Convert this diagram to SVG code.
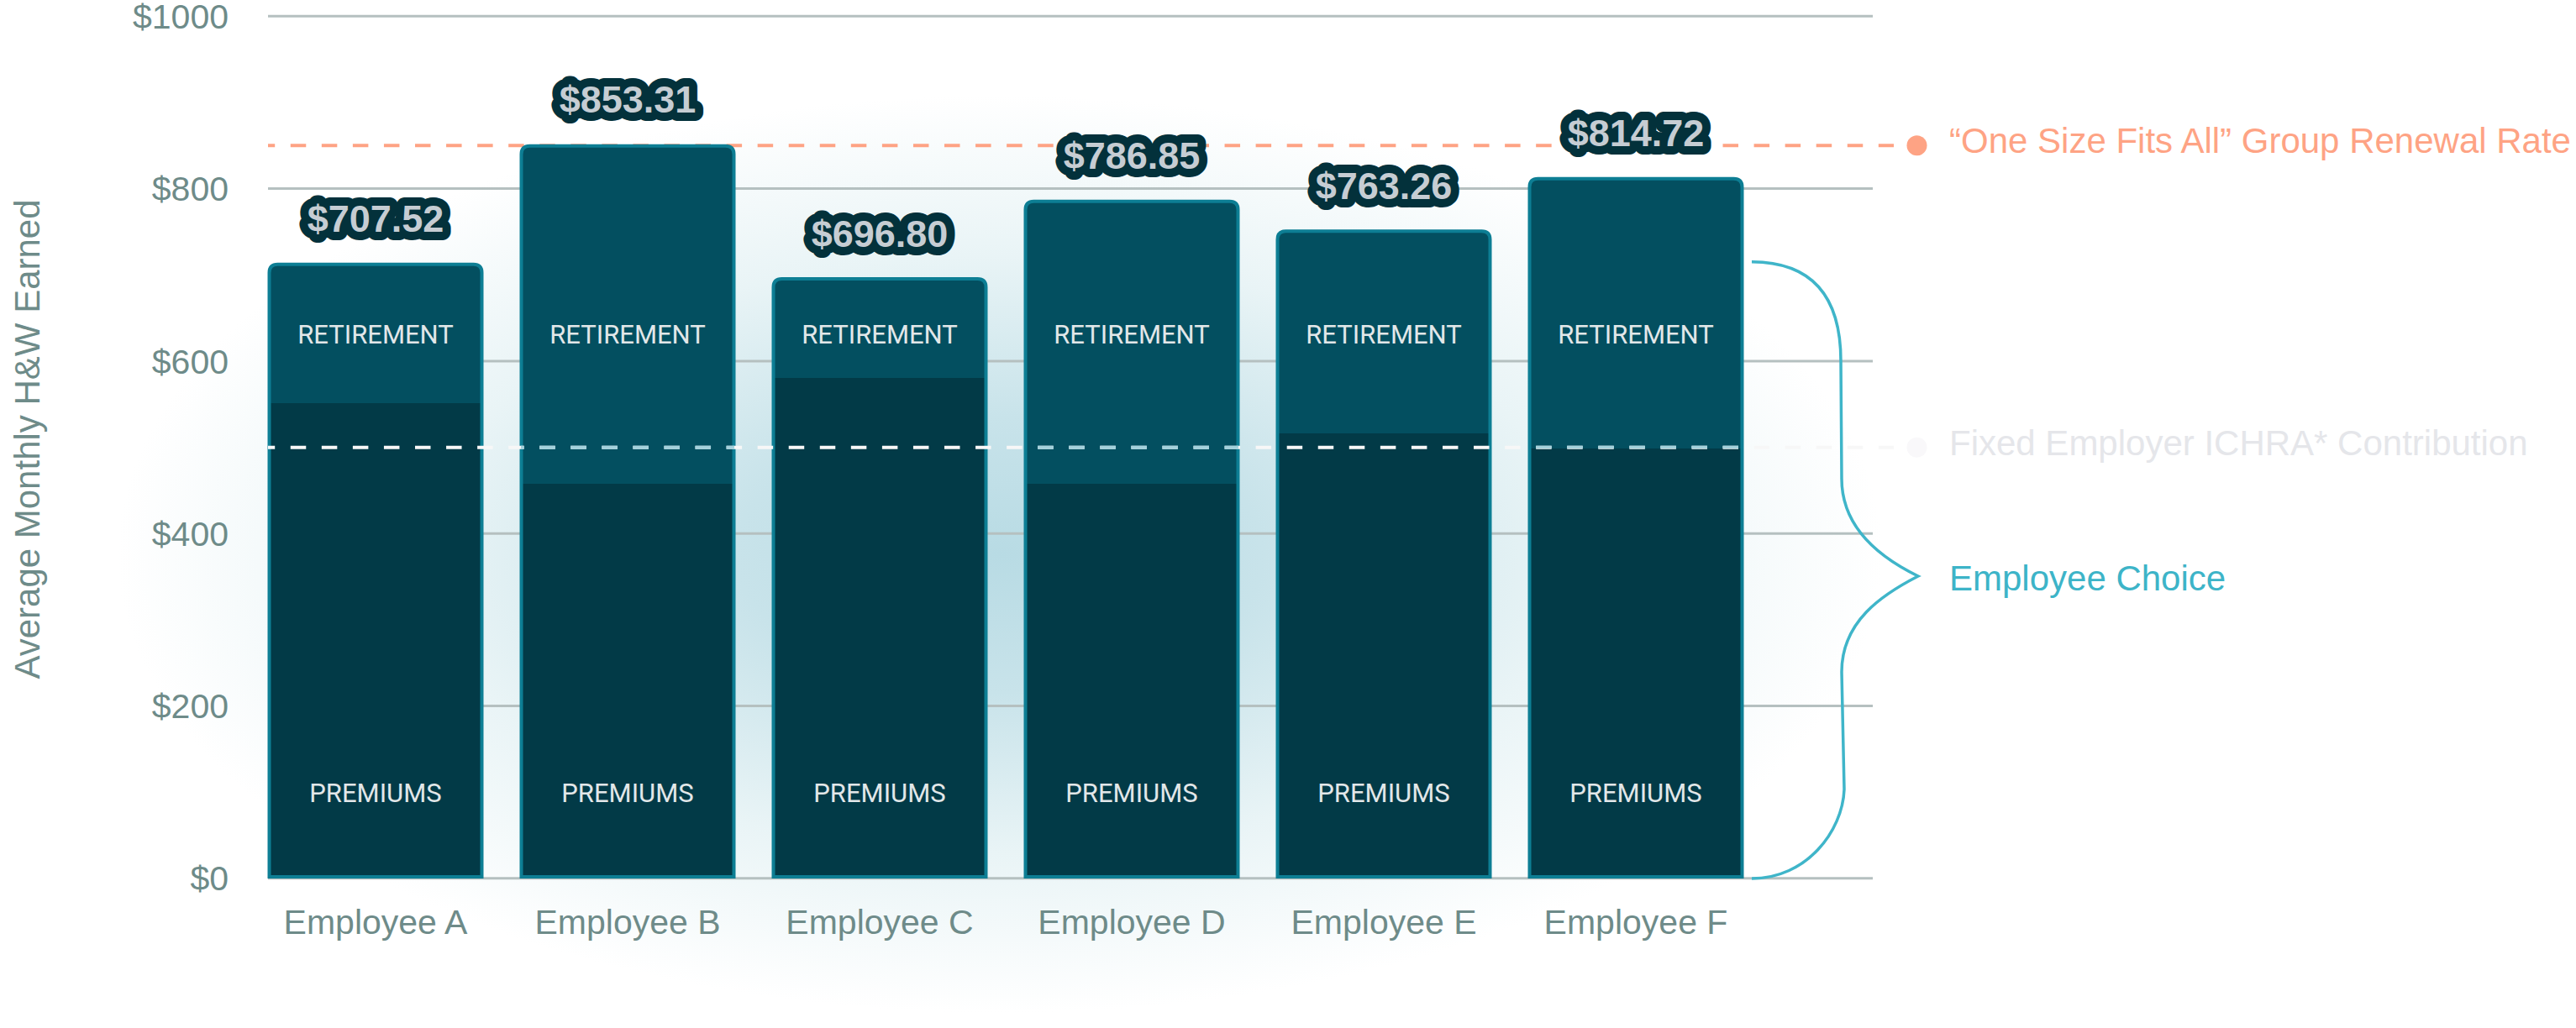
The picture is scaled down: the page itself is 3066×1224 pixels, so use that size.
<svg xmlns="http://www.w3.org/2000/svg" width="3066" height="1224" viewBox="0 0 3066 1224">
<defs>
<radialGradient id="glow" cx="1190" cy="660" r="1050" gradientUnits="userSpaceOnUse" gradientTransform="translate(1190 660) scale(1 0.52) translate(-1190 -660)">
<stop offset="0" stop-color="#b8dbe4"/>
<stop offset="0.3" stop-color="#c8e3ea"/>
<stop offset="0.65" stop-color="#e9f4f6"/>
<stop offset="1" stop-color="#ffffff"/>
</radialGradient>
<clipPath id="retClip">
<rect x="620" y="520" width="254" height="26"/>
<rect x="1220" y="520" width="254" height="26"/>
<rect x="1820" y="520" width="254" height="14"/>
</clipPath>
<style>
.grid{stroke:#b5c0c0;stroke-width:3}
.tick{font-family:"Liberation Sans",Arial,sans-serif;font-size:41px;fill:#6e8b89;text-anchor:end}
.xl{font-family:"Liberation Sans",Arial,sans-serif;font-size:41px;fill:#6e8b89;text-anchor:middle}
.ret{fill:#034f60}
.prem{fill:#023a47}
.outline{fill:none;stroke:#0d7e94;stroke-width:4}
.inlbl{font-family:Roboto,"Liberation Sans",sans-serif;font-size:31px;fill:#e2e7e9;text-anchor:middle}
.val{font-family:"Liberation Sans",Arial,sans-serif;font-weight:bold;font-size:45px;fill:#c6cdd3;text-anchor:middle;stroke:#03313b;stroke-width:20;stroke-linejoin:round;paint-order:stroke fill}
.leg{font-family:"Liberation Sans",Arial,sans-serif;font-size:42px}
.dash{stroke-width:4;stroke-dasharray:18.5 18.56;stroke-dashoffset:10.3;fill:none}
</style>
</defs>
<rect x="0" y="0" width="3066" height="1224" fill="#ffffff"/>
<rect x="0" y="0" width="3066" height="1224" fill="url(#glow)"/>

<g id="gridlines">
<line class="grid" x1="319" y1="19.3" x2="2229" y2="19.3"/>
<line class="grid" x1="319" y1="224.6" x2="2229" y2="224.6"/>
<line class="grid" x1="319" y1="430" x2="2229" y2="430"/>
<line class="grid" x1="319" y1="635.2" x2="2229" y2="635.2"/>
<line class="grid" x1="319" y1="840.5" x2="2229" y2="840.5"/>
<line class="grid" x1="319" y1="1045.8" x2="2229" y2="1045.8"/>
</g>

<g id="y-axis">
<text class="tick" x="272" y="34">$1000</text>
<text class="tick" x="272" y="239">$800</text>
<text class="tick" x="272" y="444.5">$600</text>
<text class="tick" x="272" y="649.5">$400</text>
<text class="tick" x="272" y="855">$200</text>
<text class="tick" x="272" y="1060">$0</text>
<text x="0" y="0" transform="translate(47 523) rotate(-90)" font-family="'Liberation Sans',Arial,sans-serif" font-size="42" fill="#6e8b89" text-anchor="middle">Average Monthly H&amp;W Earned</text>
</g>

<g id="renewal-line">
<line class="dash" x1="319" y1="173.3" x2="2254" y2="173.3" stroke="#fea384"/>
</g>

<g id="bar-a">
<path class="ret" d="M320.5 1044 V324.7 Q320.5 314.7 330.5 314.7 H563.5 Q573.5 314.7 573.5 324.7 V1044 Z"/>
<rect class="prem" x="320.5" y="480" width="253" height="564"/>
<path class="outline" d="M320.5 1044 V324.7 Q320.5 314.7 330.5 314.7 H563.5 Q573.5 314.7 573.5 324.7 V1044 Z"/>
</g>
<g id="bar-b">
<path class="ret" d="M620.5 1044 V183.7 Q620.5 173.7 630.5 173.7 H863.5 Q873.5 173.7 873.5 183.7 V1044 Z"/>
<rect class="prem" x="620.5" y="576" width="253" height="468"/>
<path class="outline" d="M620.5 1044 V183.7 Q620.5 173.7 630.5 173.7 H863.5 Q873.5 173.7 873.5 183.7 V1044 Z"/>
</g>
<g id="bar-c">
<path class="ret" d="M920.5 1044 V342 Q920.5 332 930.5 332 H1163.5 Q1173.5 332 1173.5 342 V1044 Z"/>
<rect class="prem" x="920.5" y="450" width="253" height="594"/>
<path class="outline" d="M920.5 1044 V342 Q920.5 332 930.5 332 H1163.5 Q1173.5 332 1173.5 342 V1044 Z"/>
</g>
<g id="bar-d">
<path class="ret" d="M1220.5 1044 V249.7 Q1220.5 239.7 1230.5 239.7 H1463.5 Q1473.5 239.7 1473.5 249.7 V1044 Z"/>
<rect class="prem" x="1220.5" y="576" width="253" height="468"/>
<path class="outline" d="M1220.5 1044 V249.7 Q1220.5 239.7 1230.5 239.7 H1463.5 Q1473.5 239.7 1473.5 249.7 V1044 Z"/>
</g>
<g id="bar-e">
<path class="ret" d="M1520.5 1044 V285.3 Q1520.5 275.3 1530.5 275.3 H1763.5 Q1773.5 275.3 1773.5 285.3 V1044 Z"/>
<rect class="prem" x="1520.5" y="516" width="253" height="528"/>
<path class="outline" d="M1520.5 1044 V285.3 Q1520.5 275.3 1530.5 275.3 H1763.5 Q1773.5 275.3 1773.5 285.3 V1044 Z"/>
</g>
<g id="bar-f">
<path class="ret" d="M1820.5 1044 V222.7 Q1820.5 212.7 1830.5 212.7 H2063.5 Q2073.5 212.7 2073.5 222.7 V1044 Z"/>
<rect class="prem" x="1820.5" y="534" width="253" height="510"/>
<path class="outline" d="M1820.5 1044 V222.7 Q1820.5 212.7 1830.5 212.7 H2063.5 Q2073.5 212.7 2073.5 222.7 V1044 Z"/>
</g>

<g id="ichra-line">
<line class="dash" x1="319" y1="532.7" x2="2254" y2="532.7" stroke="#f7f7f7"/>
<line class="dash" x1="319" y1="532.7" x2="2254" y2="532.7" stroke="#a3d1dc" clip-path="url(#retClip)"/>
</g>

<g id="segment-labels">
<text class="inlbl" x="447" y="408.5">RETIREMENT</text>
<text class="inlbl" x="747" y="408.5">RETIREMENT</text>
<text class="inlbl" x="1047" y="408.5">RETIREMENT</text>
<text class="inlbl" x="1347" y="408.5">RETIREMENT</text>
<text class="inlbl" x="1647" y="408.5">RETIREMENT</text>
<text class="inlbl" x="1947" y="408.5">RETIREMENT</text>
<text class="inlbl" x="447" y="955">PREMIUMS</text>
<text class="inlbl" x="747" y="955">PREMIUMS</text>
<text class="inlbl" x="1047" y="955">PREMIUMS</text>
<text class="inlbl" x="1347" y="955">PREMIUMS</text>
<text class="inlbl" x="1647" y="955">PREMIUMS</text>
<text class="inlbl" x="1947" y="955">PREMIUMS</text>
</g>

<g id="value-labels">
<text class="val" x="447" y="276">$707.52</text>
<text class="val" x="747" y="134">$853.31</text>
<text class="val" x="1047" y="294">$696.80</text>
<text class="val" x="1347" y="200.5">$786.85</text>
<text class="val" x="1647" y="236.5">$763.26</text>
<text class="val" x="1947" y="173.5">$814.72</text>
</g>

<g id="x-axis">
<text class="xl" x="447" y="1111.5">Employee A</text>
<text class="xl" x="747" y="1111.5">Employee B</text>
<text class="xl" x="1047" y="1111.5">Employee C</text>
<text class="xl" x="1347" y="1111.5">Employee D</text>
<text class="xl" x="1647" y="1111.5">Employee E</text>
<text class="xl" x="1947" y="1111.5">Employee F</text>
</g>

<g id="legend-renewal">
<circle cx="2281.5" cy="173.3" r="12" fill="#fea384"/>
<text class="leg" x="2320" y="182" fill="#fea384">“One Size Fits All” Group Renewal Rate</text>
</g>
<g id="legend-ichra">
<circle cx="2281.5" cy="532.7" r="12" fill="#f9f8fa"/>
<text class="leg" x="2320" y="542" fill="#e5e6ea">Fixed Employer ICHRA* Contribution</text>
</g>
<g id="legend-choice">
<path d="M2085 311.7 C2150 312 2191 345 2191 430 L2192 570 C2192 630 2240 665 2283 686 C2240 708 2192 740 2192 800 L2195 940 C2193 990 2150 1046 2085 1046" fill="none" stroke="#3fb5c9" stroke-width="3.5"/>
<text class="leg" x="2320" y="703" fill="#3db4c8">Employee Choice</text>
</g>
</svg>
